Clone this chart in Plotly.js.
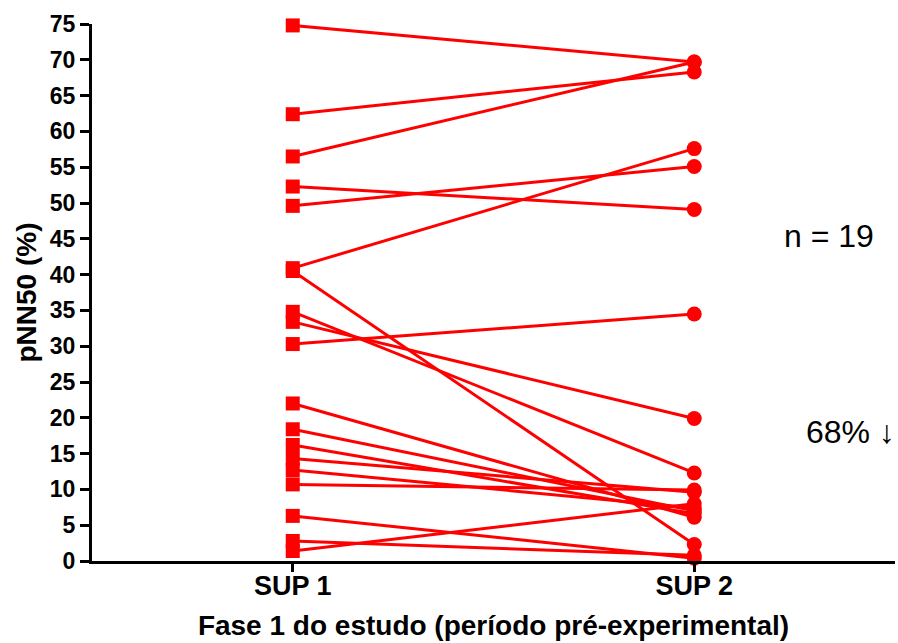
<!DOCTYPE html>
<html>
<head>
<meta charset="utf-8">
<script src="https://cdn.plot.ly/plotly-3.0.1.min.js"></script>
<style>
  html, body { margin: 0; padding: 0; background: #fff; }
  #chart { width: 898px; height: 643px; }
</style>
</head>
<body>
<div id="chart"></div>
<script>
// pNN50 (%) per subject, measured at SUP 1 and SUP 2
const phases = ['SUP 1', 'SUP 2'];
const sup1 = [74.8, 62.4, 56.5, 52.3, 49.6, 40.9, 40.5, 34.8, 33.4, 30.3,
              22.0, 18.4, 16.2, 14.3, 12.7, 10.7, 6.3, 2.8, 1.4];
const sup2 = [69.7, 68.3, 69.7, 49.1, 55.1, 57.6, 2.3, 12.3, 19.9, 34.5,
              6.1, 7.0, 6.6, 9.6, 7.4, 9.9, 0.4, 0.8, 8.0];
const yTicks = [0, 5, 10, 15, 20, 25, 30, 35, 40, 45, 50, 55, 60, 65, 70, 75];

const red = '#ff0000';
const traces = sup1.map((v, i) => ({
  type: 'scatter',
  mode: 'lines+markers',
  x: phases,
  y: [v, sup2[i]],
  opacity: 1,
  line: { color: red, width: 3 },
  marker: { color: red, opacity: 1, size: [14, 15], symbol: ['square', 'circle'], line: { width: 0 } },
  cliponaxis: false,
  showlegend: false,
  hoverinfo: 'y'
}));

const fam = 'Liberation Sans, Arial, sans-serif';
const bold = (size) => ({ family: fam, size: size, color: '#000', weight: 'bold' });

const layout = {
  width: 898,
  height: 643,
  margin: { l: 92, r: 3, t: 24, b: 82 },
  paper_bgcolor: '#fff',
  plot_bgcolor: '#fff',
  showlegend: false,
  xaxis: {
    type: 'category',
    range: [-0.5, 1.5],
    showgrid: false,
    zeroline: false,
    showline: true,
    linecolor: '#000',
    linewidth: 3,
    ticks: 'outside',
    ticklen: 8,
    tickwidth: 3,
    tickcolor: '#000',
    tickfont: bold(27),
    ticklabelstandoff: -9,
    title: { text: 'Fase 1 do estudo (período pré-experimental)', font: bold(28), standoff: 15 },
    automargin: false
  },
  yaxis: {
    range: [0, 75],
    tickvals: yTicks,
    ticktext: yTicks.map(String),
    showgrid: false,
    zeroline: false,
    showline: true,
    linecolor: '#000',
    linewidth: 3,
    ticks: 'outside',
    ticklen: 9,
    tickwidth: 3,
    tickcolor: '#000',
    tickfont: bold(23),
    title: { text: 'pNN50 (%)', font: bold(28), standoff: 6 },
    automargin: false
  },
  annotations: [
    { xref: 'paper', yref: 'paper', x: 0.918, y: 0.605, xanchor: 'center', yanchor: 'middle',
      text: 'n = 19', showarrow: false, font: { family: fam, size: 32, color: '#000' } },
    { xref: 'paper', yref: 'paper', x: 0.945, y: 0.240, xanchor: 'center', yanchor: 'middle',
      text: '68% ↓', showarrow: false, font: { family: fam, size: 32, color: '#000' } }
  ]
};

Plotly.newPlot('chart', traces, layout, { displayModeBar: false, staticPlot: true });
</script>
</body>
</html>
